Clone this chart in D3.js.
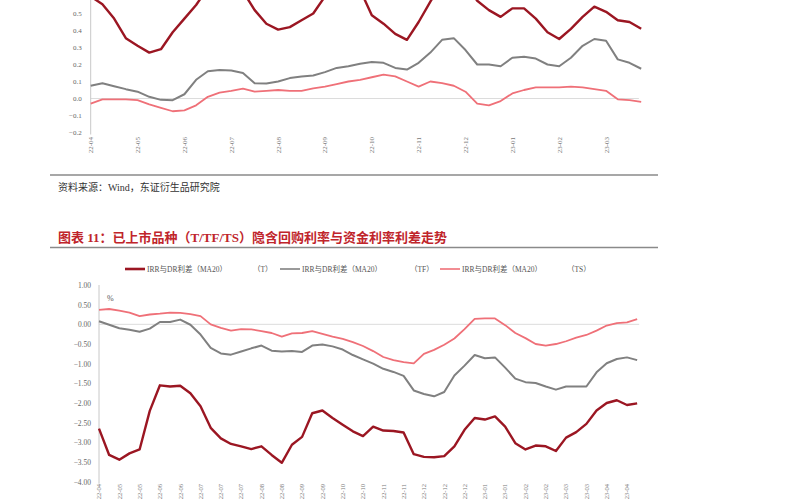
<!DOCTYPE html>
<html><head><meta charset="utf-8">
<script src="https://cdn.jsdelivr.net/npm/d3@7"></script>
<style>html,body{margin:0;padding:0;background:#fff;} svg{display:block}</style>
</head><body>
<svg id="c" width="800" height="500"></svg>
<script>
// ---------- DATA ----------
// Top chart (partially visible): monthly ticks, samples every 0.25 month
const topTickLabels = ["22-04","22-05","22-06","22-07","22-08","22-09","22-10","22-11","22-12","23-01","23-02","23-03"];
const topYTicks = [-0.2,-0.1,0.0,0.1,0.2,0.3,0.4,0.5];
const topStep = 0.25;
const topT = [0.60,0.555,0.47,0.355,0.31,0.27,0.29,0.39,0.47,0.55,0.65,0.72,0.72,0.63,0.52,0.44,0.405,0.42,0.46,0.50,0.60,0.68,0.70,0.64,0.49,0.44,0.38,0.345,0.45,0.57,0.68,0.72,0.67,0.575,0.52,0.48,0.53,0.53,0.47,0.39,0.35,0.41,0.48,0.54,0.51,0.46,0.45,0.41];
const topTF = [0.075,0.09,0.072,0.055,0.04,0.01,-0.008,-0.01,0.025,0.11,0.16,0.168,0.165,0.15,0.09,0.088,0.10,0.12,0.13,0.135,0.155,0.18,0.19,0.205,0.215,0.21,0.18,0.17,0.21,0.27,0.345,0.355,0.285,0.20,0.20,0.19,0.24,0.245,0.235,0.20,0.19,0.24,0.31,0.35,0.34,0.23,0.21,0.175];
const topTS = [-0.03,-0.005,-0.005,-0.005,-0.01,-0.035,-0.055,-0.075,-0.07,-0.04,0.01,0.035,0.045,0.058,0.04,0.045,0.05,0.045,0.045,0.06,0.07,0.085,0.10,0.11,0.125,0.14,0.13,0.10,0.07,0.10,0.09,0.075,0.04,-0.03,-0.04,-0.015,0.03,0.05,0.065,0.065,0.065,0.07,0.065,0.055,0.045,-0.005,-0.01,-0.02];

// Bottom chart: tick every two weeks, samples every half tick
const botTickLabels = ["22-04","22-05","22-05","22-06","22-06","22-07","22-07","22-07","22-08","22-08","22-09","22-09","22-10","22-10","22-11","22-11","22-12","22-12","22-12","23-01","23-01","23-02","23-02","23-03","23-03","23-04","23-04"];
const botYTicks = [-4.0,-3.5,-3.0,-2.5,-2.0,-1.5,-1.0,-0.5,0.0,0.5,1.0];
const botStep = 0.5;
const botT = [-2.65,-3.32,-3.44,-3.28,-3.18,-2.2,-1.55,-1.58,-1.56,-1.75,-2.08,-2.63,-2.90,-3.04,-3.10,-3.17,-3.10,-3.32,-3.52,-3.06,-2.86,-2.26,-2.19,-2.38,-2.55,-2.72,-2.84,-2.60,-2.70,-2.71,-2.75,-3.30,-3.37,-3.38,-3.35,-3.10,-2.68,-2.38,-2.42,-2.34,-2.60,-3.02,-3.18,-3.08,-3.10,-3.22,-2.88,-2.74,-2.53,-2.19,-2.00,-1.93,-2.05,-2.01];
const botTF = [0.08,-0.01,-0.10,-0.14,-0.19,-0.11,0.06,0.06,0.12,-0.01,-0.26,-0.60,-0.74,-0.77,-0.69,-0.61,-0.54,-0.67,-0.69,-0.68,-0.70,-0.54,-0.51,-0.56,-0.64,-0.78,-0.89,-1.00,-1.13,-1.21,-1.31,-1.68,-1.77,-1.83,-1.72,-1.30,-1.05,-0.78,-0.86,-0.84,-1.10,-1.38,-1.47,-1.49,-1.58,-1.66,-1.58,-1.58,-1.58,-1.22,-0.99,-0.88,-0.84,-0.91];
const botTS = [0.37,0.39,0.35,0.30,0.21,0.25,0.27,0.30,0.29,0.26,0.21,0.0,-0.09,-0.16,-0.12,-0.13,-0.17,-0.22,-0.31,-0.23,-0.22,-0.17,-0.24,-0.31,-0.37,-0.45,-0.55,-0.68,-0.83,-0.91,-0.96,-0.99,-0.75,-0.65,-0.52,-0.36,-0.12,0.14,0.15,0.15,-0.02,-0.22,-0.35,-0.50,-0.54,-0.50,-0.43,-0.34,-0.27,-0.16,-0.03,0.03,0.05,0.13];

const seriesNames = ["IRR与DR利差（MA20）","IRR与DR利差（MA20）","IRR与DR利差（MA20）"];
const seriesTags = ["（T）","（TF）","（TS）"];
const sourceText = "资料来源：Wind，东证衍生品研究院";
const titleText = "图表 11：已上市品种（T/TF/TS）隐含回购利率与资金利率利差走势";

// ---------- STYLE ----------
const colT = "#9b1622", colTF = "#808080", colTS = "#ef7078";
const serif = "'Liberation Serif','Noto Sans CJK SC',serif";
const svg = d3.select("#c");

// ---------- TOP CHART ----------
const xTop = d3.scaleLinear().domain([0, 12]).range([90.7, 90.7 + 12 * 46.85]);
const yTop = d3.scaleLinear().domain([-0.2, 0.8]).range([132.5, -37.5]);
const gTop = svg.append("g");
gTop.append("line").attr("x1", xTop(0)).attr("x2", xTop(11.7)).attr("y1", yTop(0)).attr("y2", yTop(0))
  .attr("stroke", "#dcdcdc").attr("stroke-width", 1);
const yAxTop = gTop.append("g").attr("transform", `translate(${xTop(0)},0)`)
  .call(d3.axisLeft(yTop).tickValues(topYTicks).tickSize(0).tickPadding(9).tickFormat(d3.format(".1f")));
yAxTop.select(".domain").attr("stroke", "#c8c8c8").attr("d", `M0,${yTop(0.8)}V${yTop(-0.2) + 2}`);
yAxTop.selectAll("text").attr("font-family", serif).attr("font-size", 7).attr("fill", "#666");

gTop.selectAll("text.xt").data(topTickLabels).join("text").attr("class", "xt")
  .attr("transform", (d, i) => `translate(${xTop(i) + 2.5},137) rotate(-90)`)
  .attr("text-anchor", "end").attr("font-family", serif).attr("font-size", 7).attr("fill", "#777")
  .text(d => d);

const lineTop = d3.line().x((d, i) => xTop(i * topStep)).y(d => yTop(d));
[[topTS, colTS, 1.8], [topTF, colTF, 2], [topT, colT, 2.4]].forEach(([s, c, w]) => {
  gTop.append("path").datum(s).attr("d", lineTop).attr("fill", "none").attr("stroke", c)
    .attr("stroke-width", w).attr("stroke-linejoin", "round");
});

// separator + source
svg.append("line").attr("x1", 50).attr("x2", 658).attr("y1", 175).attr("y2", 175).attr("stroke", "#8a8a8a").attr("stroke-width", 1.4);
svg.append("text").attr("x", 58).attr("y", 191).attr("font-family", serif).attr("font-size", 10)
  .attr("fill", "#333").text(sourceText);

// title
svg.append("text").attr("x", 58).attr("y", 242).attr("font-family", serif).attr("font-size", 13)
  .attr("font-weight", "bold").attr("fill", "#c0252b").text(titleText);
svg.append("line").attr("x1", 50).attr("x2", 658).attr("y1", 247.5).attr("y2", 247.5).attr("stroke", "#8a8a8a").attr("stroke-width", 1.4);

// legend
const legX = [125, 280, 440], tagX = [253, 410, 567], legCols = [colT, colTF, colTS], legW = [2.6, 1.6, 1.6];
legX.forEach((x, i) => {
  svg.append("line").attr("x1", x).attr("x2", x + 20).attr("y1", 269).attr("y2", 269).attr("stroke", legCols[i]).attr("stroke-width", legW[i]);
  svg.append("text").attr("x", x + 22).attr("y", 271.5).attr("font-family", serif).attr("font-size", 7.5).attr("fill", "#555").text(seriesNames[i]);
  svg.append("text").attr("x", tagX[i]).attr("y", 271.5).attr("font-family", serif).attr("font-size", 7.5).attr("fill", "#555").text(seriesTags[i]);
});

// ---------- BOTTOM CHART ----------
const xBot = d3.scaleLinear().domain([0, 26]).range([99, 627]);
const yBot = d3.scaleLinear().domain([-4, 1]).range([481.7, 285]);
const gBot = svg.append("g");
gBot.append("line").attr("x1", xBot(0)).attr("x2", xBot(26.6)).attr("y1", yBot(0)).attr("y2", yBot(0))
  .attr("stroke", "#dcdcdc").attr("stroke-width", 1);
const yAxBot = gBot.append("g").attr("transform", `translate(${xBot(0)},0)`)
  .call(d3.axisLeft(yBot).tickValues(botYTicks).tickSize(0).tickPadding(8).tickFormat(d3.format(".2f")));
yAxBot.select(".domain").attr("stroke", "#c8c8c8").attr("d", `M0,${yBot(1)}V${yBot(-4) + 2}`);
yAxBot.selectAll("text").attr("font-family", serif).attr("font-size", 7.5).attr("fill", "#666");
gBot.append("text").attr("x", 107).attr("y", 301).attr("font-family", serif).attr("font-size", 8).attr("fill", "#555").text("%");

gBot.selectAll("text.xb").data(botTickLabels).join("text").attr("class", "xb")
  .attr("transform", (d, i) => `translate(${xBot(i) + 2.3},484) rotate(-90)`)
  .attr("text-anchor", "end").attr("font-family", serif).attr("font-size", 6.5).attr("fill", "#777")
  .text(d => d);

const lineBot = d3.line().x((d, i) => xBot(i * botStep)).y(d => yBot(d));
[[botTS, colTS, 1.8], [botTF, colTF, 2], [botT, colT, 2.4]].forEach(([s, c, w]) => {
  gBot.append("path").datum(s).attr("d", lineBot).attr("fill", "none").attr("stroke", c)
    .attr("stroke-width", w).attr("stroke-linejoin", "round");
});
</script>
</body></html>
